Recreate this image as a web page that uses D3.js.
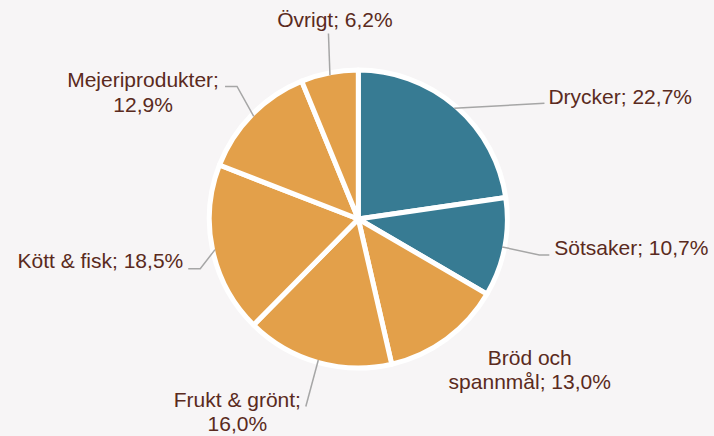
<!DOCTYPE html>
<html>
<head>
<meta charset="utf-8">
<script src="https://cdn.jsdelivr.net/npm/d3@7/dist/d3.min.js"></script>
<style>
  html, body { margin: 0; padding: 0; background: #f7f5f6; }
  svg { display: block; }
</style>
</head>
<body>
<div id="chart"></div>
<script>
// data, clockwise from 12 o'clock
const categories = ['Drycker', 'Sötsaker', 'Bröd och spannmål', 'Frukt & grönt', 'Kött & fisk', 'Mejeriprodukter', 'Övrigt'];
const shares = [22.7, 10.7, 13.0, 16.0, 18.5, 12.9, 6.2];
const labelLines = [
    ['Drycker; 22,7%'],
    ['Sötsaker; 10,7%'],
    ['Bröd och', 'spannmål; 13,0%'],
    ['Frukt & grönt;', '16,0%'],
    ['Kött & fisk; 18,5%'],
    ['Mejeriprodukter;', '12,9%'],
    ['Övrigt; 6,2%']
];
const groups = ['dryck', 'dryck', 'mat', 'mat', 'mat', 'mat', 'mat'];

const width = 714;
const height = 436;
const cx = 358.3;
const cy = 219;
const radius = 149;

const color = d3.scaleOrdinal()
    .domain(['dryck', 'mat'])
    .range(['#377b93', '#e3a04a']);

// label layout, offsets from the slice's outer edge at its mid angle
// pts = leader line points, t = text anchor point
const labelLayout = [
    { pts: [[90.3, -4.9]], t: [94.3, -3.9], anchor: 'start' },
    { pts: [[37.2, 8], [47.2, 8]], t: [52.2, 8], anchor: 'start' },
    { pts: [], t: [84.6, 27.7], anchor: 'middle' },
    { pts: [[-12.5, 46.6]], t: [-81, 46.6], anchor: 'middle' },
    { pts: [[-14.8, 19.2], [-26.8, 19.2]], t: [-31.8, 18.2], anchor: 'end' },
    { pts: [[-16.7, -30], [-28.7, -30]], t: [-110.7, -29], anchor: 'middle' },
    { pts: [[-1.5, -41.8]], t: [5, -47.8], anchor: 'middle' }
];

const svg = d3.select('#chart')
    .append('svg')
    .attr('width', width)
    .attr('height', height);

svg.append('rect')
    .attr('width', width)
    .attr('height', height)
    .attr('fill', '#f7f5f6');

const g = svg.append('g')
    .attr('transform', `translate(${cx},${cy})`);

const pie = d3.pie().sort(null).value(d => d);
const arcs = pie(shares);

const arc = d3.arc().innerRadius(0).outerRadius(radius);

g.selectAll('.slice')
    .data(arcs)
    .enter()
    .append('path')
    .attr('class', 'slice')
    .attr('d', arc)
    .attr('fill', d => color(groups[d.index]))
    .attr('stroke', '#ffffff')
    .attr('stroke-width', 5)
    .attr('stroke-linejoin', 'round');

// edge point used by leaders (visible edge of the slice)
const edgeR = radius - 2.5;
const edge = d => {
    const a = (d.startAngle + d.endAngle) / 2;
    return [edgeR * Math.sin(a), -edgeR * Math.cos(a)];
};

const labels = g.selectAll('.label')
    .data(arcs)
    .enter()
    .append('g')
    .attr('class', 'label');

labels.filter(d => labelLayout[d.index].pts.length > 0)
    .append('path')
    .attr('d', d => {
        const p0 = edge(d);
        const pts = [p0].concat(labelLayout[d.index].pts.map(p => [p0[0] + p[0], p0[1] + p[1]]));
        return d3.line()(pts);
    })
    .attr('fill', 'none')
    .attr('stroke', '#a6a6a6')
    .attr('stroke-width', 1.5);

labels.append('text')
    .attr('x', d => edge(d)[0] + labelLayout[d.index].t[0])
    .attr('y', d => edge(d)[1] + labelLayout[d.index].t[1])
    .attr('text-anchor', d => labelLayout[d.index].anchor)
    .attr('font-family', 'Liberation Sans, Arial, sans-serif')
    .attr('font-size', 21)
    .attr('fill', '#5a2a20')
    .each(function (d) {
        const t = d3.select(this);
        const x = t.attr('x');
        labelLines[d.index].forEach((line, k) => {
            t.append('tspan')
                .attr('x', x)
                .attr('dy', k === 0 ? 0 : 24.5)
                .text(line);
        });
    });
</script>
</body>
</html>
